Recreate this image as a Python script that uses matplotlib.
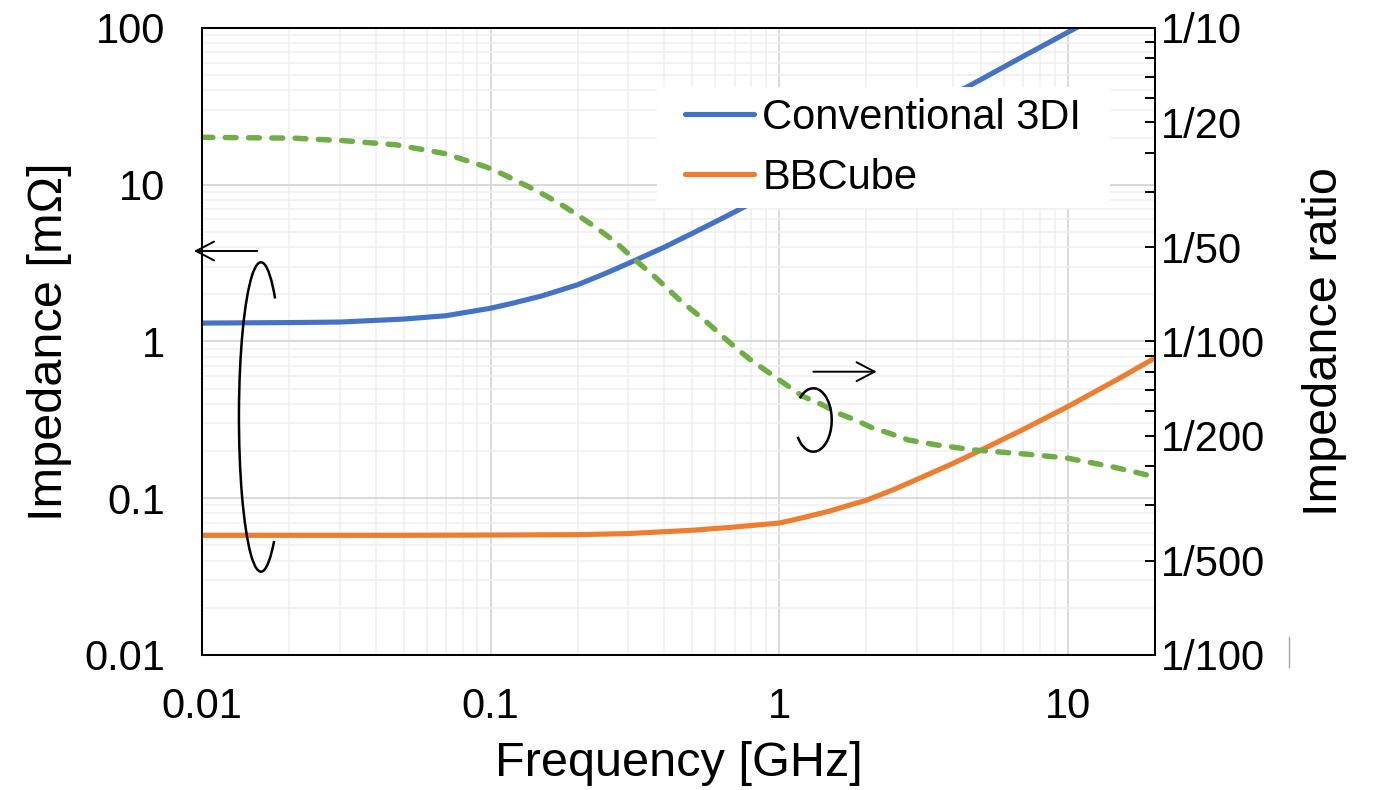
import numpy as np
import matplotlib
matplotlib.use("Agg")
import matplotlib.pyplot as plt
from matplotlib.patches import Arc, Rectangle
from matplotlib.lines import Line2D
from matplotlib.ticker import LogLocator, FixedLocator, FixedFormatter, NullFormatter, FuncFormatter

plt.rcParams["font.family"] = ["Liberation Sans", "DejaVu Sans"]

# valores
freq_3di = [0.01, 0.02, 0.03, 0.05, 0.07, 0.1, 0.12, 0.15, 0.2, 0.25, 0.3, 0.4, 0.5, 0.6, 0.7, 0.85, 1, 1.5, 2,
            3, 5, 7, 10, 15, 20]
z_3di = [1.31, 1.32, 1.33, 1.39, 1.46, 1.63, 1.76, 1.95, 2.3, 2.72, 3.15, 4.0, 4.9, 5.8, 6.7, 8.1, 9.5, 14.2, 18.9,
         28.3, 47, 66, 94, 141, 188]

freq_bbcube = [0.01, 0.05, 0.1, 0.2, 0.3, 0.5, 0.7, 1, 1.2, 1.5, 1.7, 2, 2.5, 3, 4, 5, 7, 10, 15, 20]
z_bbcube = [0.058, 0.058, 0.0582, 0.0586, 0.0595, 0.0625, 0.0655, 0.0695, 0.075, 0.083, 0.089, 0.097, 0.114,
            0.132, 0.167, 0.203, 0.275, 0.385, 0.58, 0.785]

freq_ratio = [0.01, 0.021, 0.031, 0.047, 0.069, 0.096, 0.11, 0.135, 0.155, 0.177, 0.2, 0.23, 0.27, 0.31, 0.37,
              0.45, 0.55, 0.71, 0.8, 0.93, 1.05, 1.2, 1.4, 1.6, 1.85, 2.1, 2.4, 2.8, 3.5, 4.7, 7, 9.9, 14.3, 20]
ratio = [0.0448, 0.0445, 0.0437, 0.0424, 0.0398, 0.0361, 0.0342, 0.0312, 0.0292, 0.0272, 0.0253, 0.0232, 0.0208,
         0.0185, 0.0161, 0.0136, 0.0117, 0.0095, 0.0087, 0.0079, 0.0073, 0.0067, 0.0063, 0.0059, 0.0056, 0.0053,
         0.0051, 0.00485, 0.00468, 0.00451, 0.00438, 0.00425, 0.00398, 0.0037]

ratio_ticks = [0.1, 0.05, 0.02, 0.01, 0.005, 0.002, 0.001]
ratio_labels = ["1/10", "1/20", "1/50", "1/100", "1/200", "1/500", "1/100"]

fig = plt.figure(figsize=(13.73, 7.9), dpi=100)
ax = fig.add_axes([0.1471, 0.1709, 0.6941, 0.7937])

# impedancia (eixo da esquerda)
l1, = ax.plot(freq_3di, z_3di, color="#4472C4", lw=3.7, label="Conventional 3DI", solid_capstyle="round")
l2, = ax.plot(freq_bbcube, z_bbcube, color="#ED7D31", lw=3.7, label="BBCube", solid_capstyle="round")
ax.set_xscale("log")
ax.set_yscale("log")
ax.set_xlim(0.01, 20)
ax.set_ylim(0.01, 100)
ax.xaxis.set_minor_locator(LogLocator(base=10, subs=np.arange(2, 10)))
ax.yaxis.set_minor_locator(LogLocator(base=10, subs=np.arange(2, 10)))
ax.xaxis.set_major_formatter(FuncFormatter(lambda v, p: f"{v:g}"))
ax.yaxis.set_major_formatter(FuncFormatter(lambda v, p: f"{v:g}"))
ax.xaxis.set_minor_formatter(NullFormatter())
ax.yaxis.set_minor_formatter(NullFormatter())
ax.grid(which="major", color="#d9d9d9", lw=1.4)
ax.grid(which="minor", color="#efefef", lw=1.1)
ax.set_axisbelow(True)
ax.tick_params(which="both", length=0, labelsize=30)
ax.tick_params(axis="y", pad=26.5)
ax.tick_params(axis="x", pad=23)
ax.set_xlabel("Frequency [GHz]", fontsize=35, labelpad=10)
ax.set_ylabel("Impedance [mΩ]", fontsize=35, labelpad=9)

# razao de impedancia (eixo da direita)
ax2 = ax.twinx()
ax2.plot(freq_ratio, ratio, color="#70AD47", lw=3.9, dashes=(2.0, 2.3), dash_capstyle="round")
ax2.set_yscale("log")
ax2.set_ylim(0.001, 0.1)
ax2.yaxis.set_major_locator(FixedLocator(ratio_ticks))
ax2.yaxis.set_major_formatter(FixedFormatter(ratio_labels))
ax2.yaxis.set_minor_locator(LogLocator(base=10, subs=np.arange(2, 10)))
ax2.yaxis.set_minor_formatter(NullFormatter())
ax2.tick_params(axis="y", which="both", direction="in", length=7.5, width=1.4, pad=4, labelsize=30)
ax2.set_ylabel("Impedance ratio", fontsize=35, labelpad=27)

for a in (ax, ax2):
    for s in a.spines.values():
        s.set_color("black")
        s.set_linewidth(1.45)

# legenda com fundo branco
ax2.add_patch(Rectangle((0.477, 0.7129), 0.4753, 0.193, transform=ax2.transAxes,
                        facecolor="white", edgecolor="none", zorder=3))
ax2.legend(handles=[l1, l2], loc="center", bbox_to_anchor=(0.715, 0.809), frameon=False, fontsize=30,
           handlelength=1.65, handletextpad=0.2, labelspacing=0.49, borderpad=0)

# elipses e setas indicando os eixos
ax2.add_patch(Arc((0.0619, 0.3796), 0.0462, 0.4935, theta1=85.5, theta2=274, transform=ax2.transAxes,
                  color="black", lw=1.8, clip_on=False, zorder=6))
ax2.add_patch(Arc((0.6415, 0.3748), 0.0386, 0.1011, theta1=-121.4, theta2=112.3, transform=ax2.transAxes,
                  color="black", lw=1.8, clip_on=False, zorder=6))
seta = dict(arrowstyle="->,head_length=0.65,head_width=0.34", lw=1.4, color="black",
            shrinkA=0, shrinkB=0, mutation_scale=20)
ax2.annotate("", xy=(-0.0084, 0.6443), xytext=(0.058, 0.6443), xycoords="axes fraction",
             textcoords="axes fraction", arrowprops=seta, annotation_clip=False)
ax2.annotate("", xy=(0.708, 0.4518), xytext=(0.6415, 0.4518), xycoords="axes fraction",
             textcoords="axes fraction", arrowprops=seta, annotation_clip=False)

fig.add_artist(Line2D([0.939, 0.939], [0.156, 0.194], color="#a6a6a6", lw=1))

fig.savefig("out.png", dpi=100)
